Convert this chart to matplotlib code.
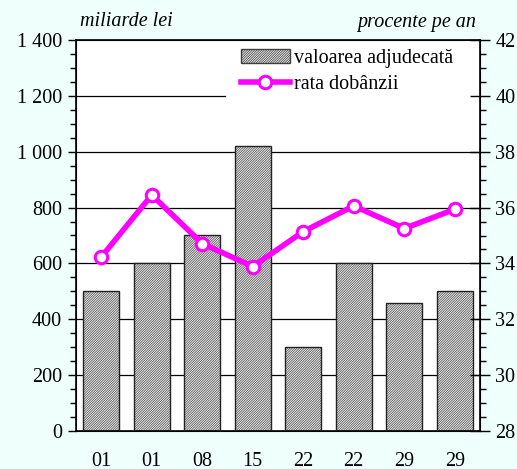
import numpy as np
import matplotlib
matplotlib.use("Agg")
import matplotlib.pyplot as plt
from matplotlib.patches import Patch
from matplotlib.lines import Line2D
from matplotlib.ticker import MultipleLocator, FuncFormatter

# data
days = ["01", "01", "08", "15", "22", "22", "29", "29"]
valoare = [500, 600, 700, 1020, 300, 600, 460, 500]        # miliarde lei
rata = [34.23, 36.45, 34.71, 33.89, 35.14, 36.06, 35.25, 35.94]  # procente pe an

BG = "#EEFFFC"
MAGENTA = "#FF00FF"
HATCH = "/" * 14

plt.rcParams["font.family"] = ["Liberation Serif", "DejaVu Serif"]
plt.rcParams["hatch.linewidth"] = 0.55

fig = plt.figure(figsize=(5.17, 4.69), dpi=100, facecolor=BG)
ax = fig.add_axes([76 / 517, 38 / 469, 404 / 517, 391 / 469])
ax.set_facecolor("white")

x = np.arange(len(days))

# grid lines behind bars (the top one stops where the legend starts)
for v in range(200, 1400, 200):
    ax.axhline(v, color="black", linewidth=0.9, zorder=1,
               xmax=0.37 if v == 1200 else 1)

ax.bar(x, valoare, width=0.71, color="#f4f4f4", edgecolor="#505050",
       hatch=HATCH, linewidth=0, zorder=2)
ax.bar(x, valoare, width=0.71, fill=False, edgecolor="#222222",
       linewidth=1.0, zorder=3)

ax.set_xlim(-0.5, len(days) - 0.5)
ax.set_ylim(0, 1400)
ax.yaxis.set_major_locator(MultipleLocator(200))
ax.yaxis.set_minor_locator(MultipleLocator(50))
ax.yaxis.set_major_formatter(FuncFormatter(
    lambda v, p: f"{int(v):,}".replace(",", " ")))
ax.tick_params(axis="y", which="major", direction="out", length=6,
               width=1, labelsize=14.5, pad=4)
ax.tick_params(axis="y", which="minor", direction="out", length=4, width=1)
ax.set_xticks(x)
ax.set_xticklabels(days)
ax.tick_params(axis="x", length=0, labelsize=14.5, pad=15)
for s in ax.spines.values():
    s.set_linewidth(1.2)

ax2 = ax.twinx()
ax2.plot(x, rata, color=MAGENTA, linewidth=4, marker="o", markersize=9,
         markerfacecolor="white", markeredgecolor=MAGENTA,
         markeredgewidth=2.2, zorder=5)
ax2.set_ylim(28, 42)
ax2.yaxis.set_major_locator(MultipleLocator(2))
ax2.yaxis.set_minor_locator(MultipleLocator(0.5))
ax2.tick_params(axis="y", which="major", direction="inout", length=14,
                width=1, labelsize=14.5, pad=4)
ax2.tick_params(axis="y", which="minor", direction="out", length=4, width=1)

fig.text(80 / 517, 1 - 22 / 469, "miliarde lei", style="italic",
         fontsize=14.5, ha="left", va="center")
fig.text(476 / 517, 1 - 22 / 469, "procente pe an", style="italic",
         fontsize=14.5, ha="right", va="center")

handles = [
    Patch(facecolor="#f4f4f4", edgecolor="#404040", hatch=HATCH,
          linewidth=1.0),
    Line2D([0], [0], color=MAGENTA, linewidth=4, marker="o", markersize=9,
           markerfacecolor="white", markeredgecolor=MAGENTA,
           markeredgewidth=2.2),
]
leg = ax2.legend(handles, ["valoarea adjudecată", "rata dobânzii"],
                 loc="upper right", bbox_to_anchor=(0.955, 1.0),
                 fontsize=14.5, frameon=True, fancybox=False,
                 facecolor="white", edgecolor="white", framealpha=1,
                 handlelength=2.4, handleheight=0.65, handletextpad=0.2,
                 borderpad=0.3, labelspacing=0.35, borderaxespad=0.15)
leg.set_zorder(10)

fig.savefig("out.png", dpi=100, facecolor=BG)
